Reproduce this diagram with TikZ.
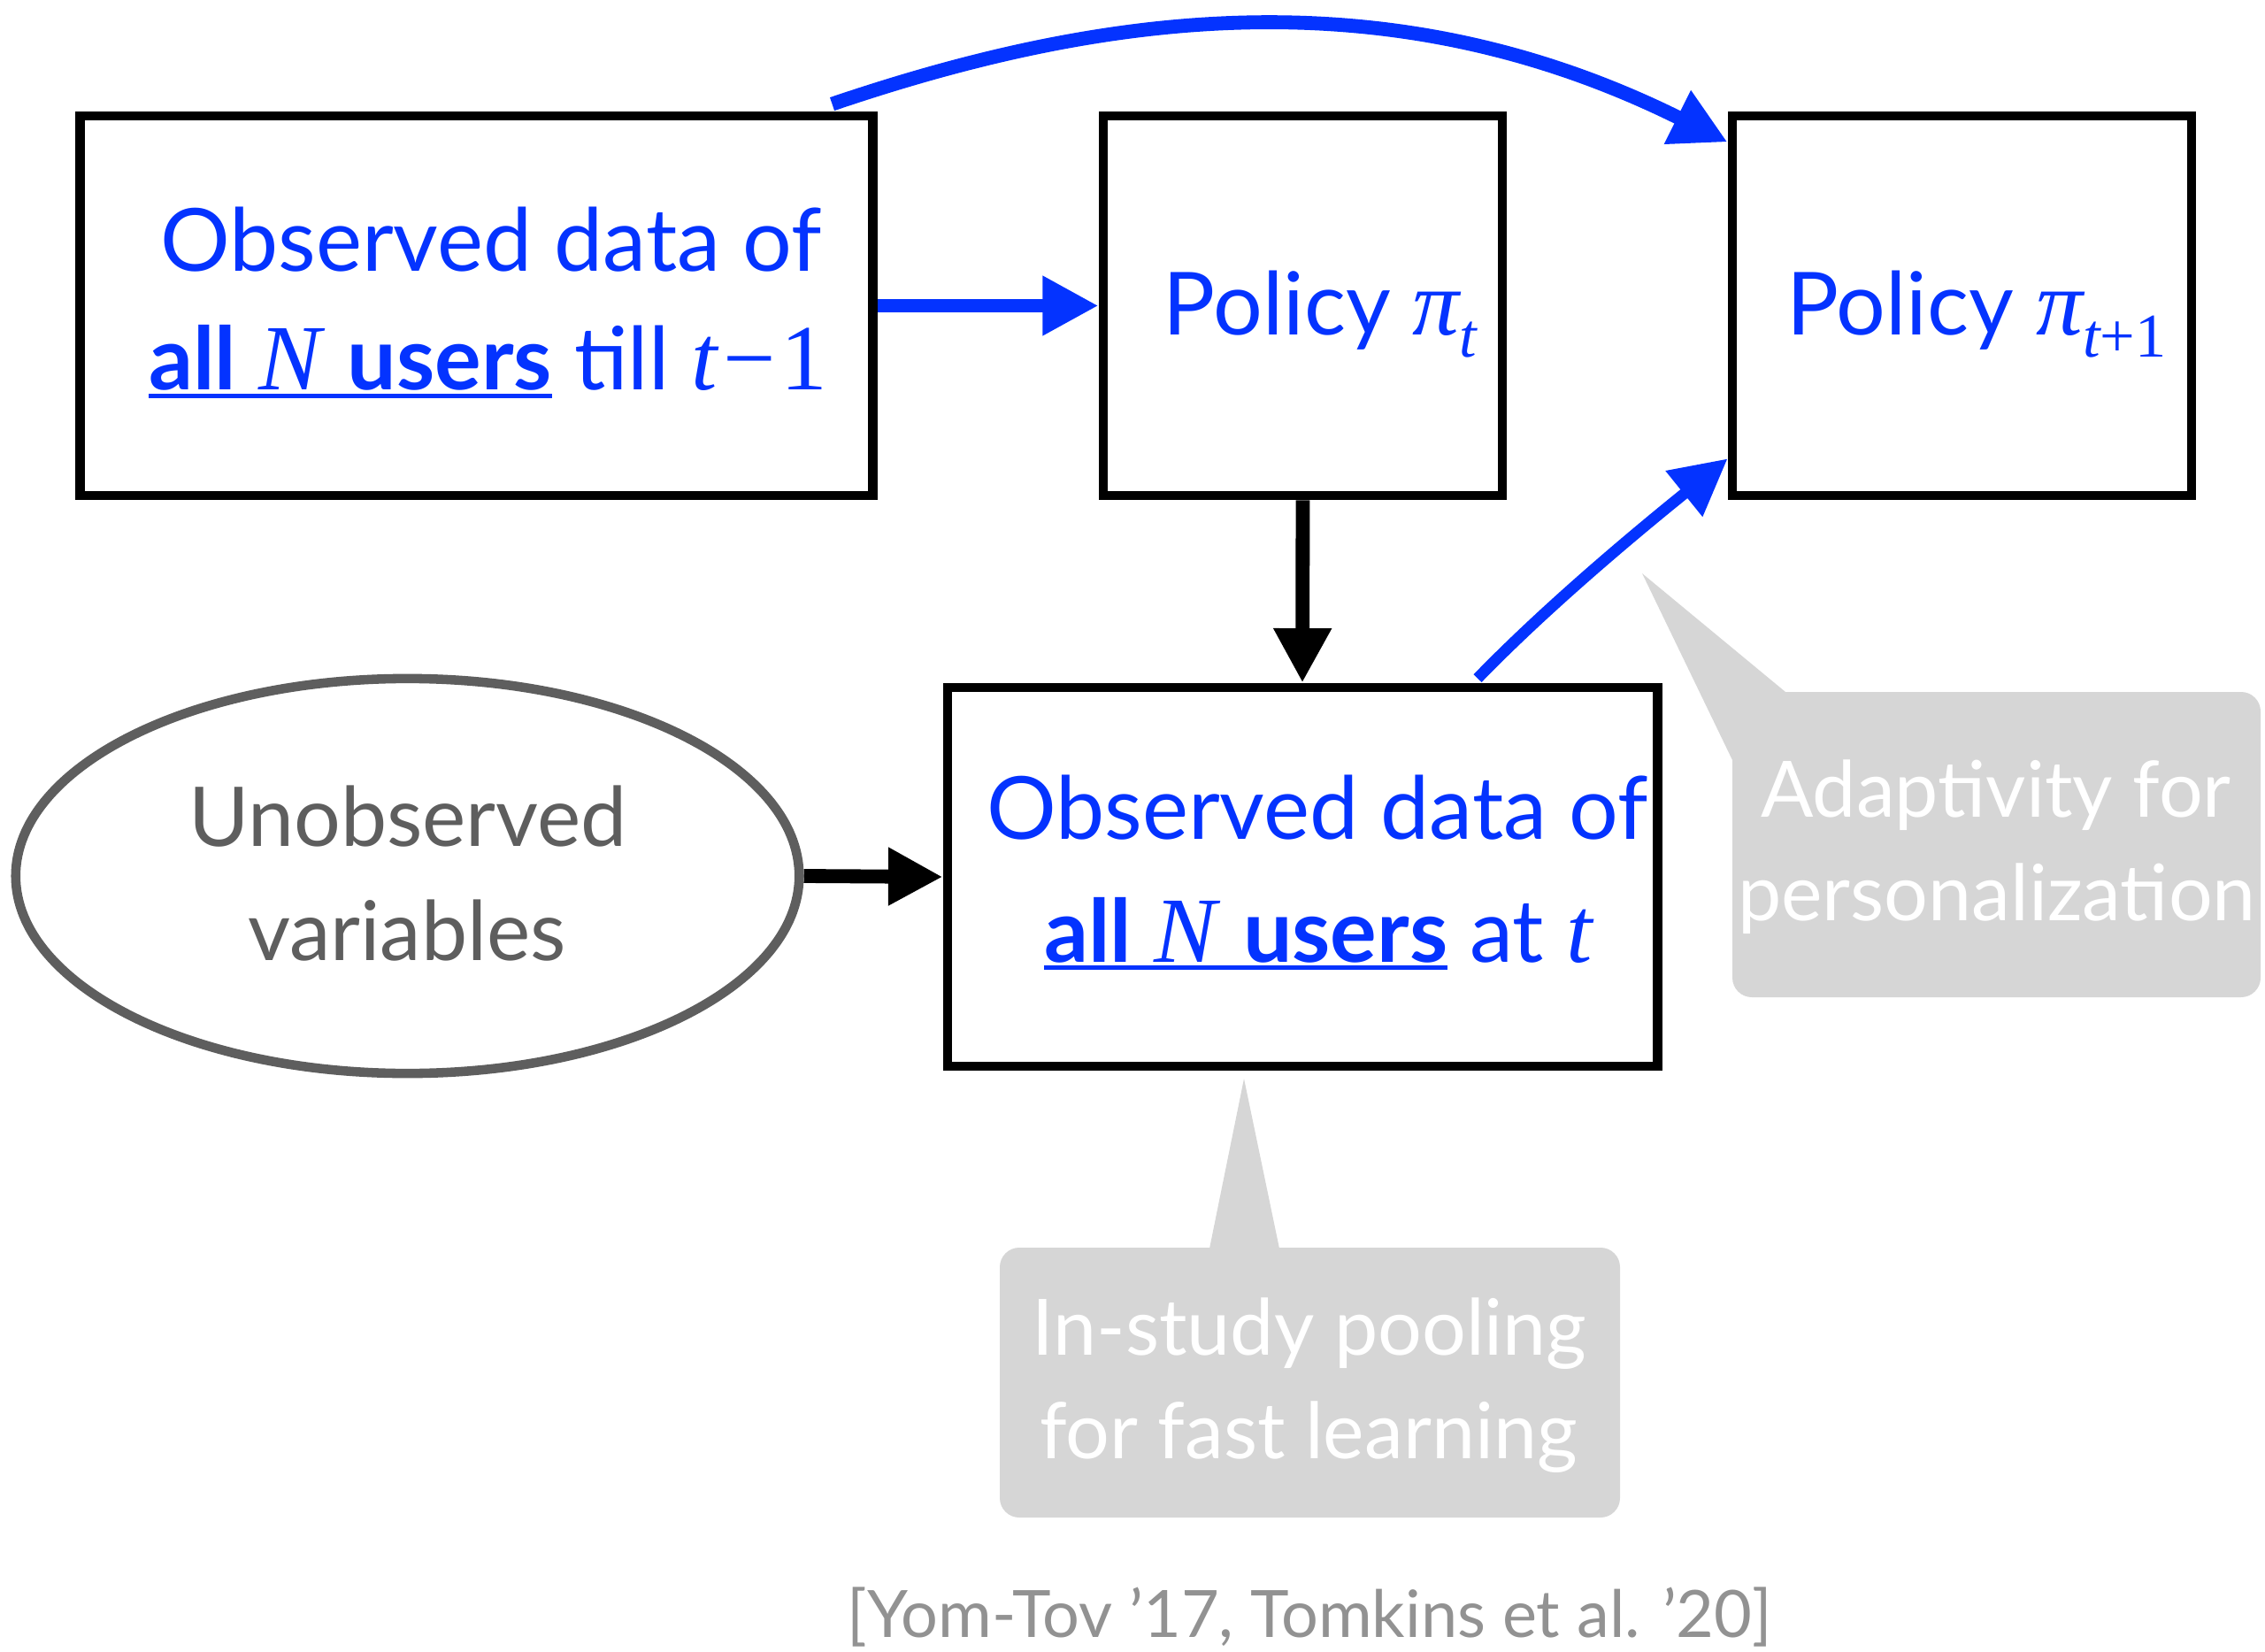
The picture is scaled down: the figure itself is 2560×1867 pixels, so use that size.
\documentclass[tikz,border=0pt]{standalone}
\usepackage{fontspec}
\setmainfont{Lato}
\newfontfamily\tms{Liberation Serif}
\usetikzlibrary{arrows.meta,shapes.geometric,calc}
\definecolor{kblue}{RGB}{4,51,255}
\definecolor{kgray}{RGB}{94,94,94}
\definecolor{callfill}{RGB}{214,214,214}
\definecolor{citegray}{RGB}{146,146,146}
\newcommand\mi[1]{{\tms\itshape\fontsize{30}{30}\selectfont #1}}
\newcommand\mup[1]{{\tms\fontsize{30}{30}\selectfont #1}}
\newcommand\myul[1]{\setbox0\hbox{#1}\rlap{\rule[-2.6pt]{\wd0}{1.4pt}}\box0\relax}
\newcommand\subx[1]{\raisebox{-7pt}{\tms\fontsize{20}{20}\selectfont #1}}
\begin{document}
\begin{tikzpicture}[x=0.01cm,y=-0.01cm,
  box/.style={draw=black,line width=3pt,rectangle,inner sep=0pt,fill=white},
  oval/.style={draw=kgray,line width=3pt,ellipse,inner sep=0pt,fill=white},
  maintxt/.style={text=kblue,font=\fontsize{28}{34}\selectfont,anchor=base,inner sep=0pt},
  graytxt/.style={text=kgray,font=\fontsize{26.5}{32}\selectfont,anchor=base,inner sep=0pt},
  calltxt/.style={text=white,font=\fontsize{25}{30}\selectfont,anchor=base,inner sep=0pt},
  citetxt/.style={text=citegray,font=\fontsize{21}{26}\selectfont,anchor=base,inner sep=0pt},
  barrow/.style={draw=kblue,line width=4.5pt,-{Triangle[length=18pt,width=18pt]}},
  barrowthin/.style={draw=kblue,line width=3.6pt,-{Triangle[length=18pt,width=18pt]}},
  karrow/.style={draw=black,line width=4.5pt,-{Triangle[length=17.5pt,width=17.5pt]}},
  callout/.style={fill=callfill,draw=none}
]
\useasboundingbox (0,0) rectangle (2560,1867);

% callout backgrounds
\fill[callout, rounded corners=0.22cm] (1958,782) rectangle (2555,1127);
\fill[callout] (1856,648) -- (2018,782) -- (2018,800) -- (1958,859) -- cycle;
\fill[callout, rounded corners=0.22cm] (1130,1410) rectangle (1831,1715);
\fill[callout] (1406,1219) -- (1446,1411) -- (1446,1420) -- (1367,1420) -- (1367,1411) -- cycle;

% boxes
\node[box, minimum width=8.95cm, minimum height=4.29cm] (A) at (538.5,345.5) {};
\node[box, minimum width=4.51cm, minimum height=4.29cm] (B) at (1472.5,345.5) {};
\node[box, minimum width=5.19cm, minimum height=4.29cm] (C) at (2217.5,345.5) {};
\node[box, minimum width=8.02cm, minimum height=4.28cm] (D) at (1472,991) {};
\node[oval, minimum width=8.85cm, minimum height=4.46cm] (E) at (460.5,990) {};

% texts
\node[maintxt] (a1) at (555,307) {Observed data of};
\node[maintxt] (a2) at (552,441) {\myul{\textbf{all} \mi{N} \textbf{users}} till \mi{t}\mup{\hspace{0.06em}−\hspace{0.06em}1}};
\node[maintxt] (b1) at (1492,379) {Policy \mi{π}\subx{\itshape t}};
\node[maintxt] (c1) at (2234,379) {Policy \mi{π}\subx{\itshape t\upshape +1}};
\node[maintxt] (d1) at (1489,948) {Observed data of};
\node[maintxt] (d2) at (1490,1087) {\myul{\textbf{all} \mi{N} \textbf{users}} at \mi{t}};
\node[graytxt] (e1) at (461,956) {Unobserved};
\node[graytxt] (e2) at (460,1085) {variables};
\node[calltxt] (p1) at (2256,923) {Adaptivity for};
\node[calltxt] (p2) at (2257,1040) {personalization};
\node[calltxt] (q1) at (1480,1531) {In-study pooling};
\node[calltxt] (q2) at (1479,1648) {for fast learning};
\node[citetxt] (cite) at (1480,1850) {[Yom-Tov ’17, Tomkins et al. ’20]};

% connectors
\coordinate (s1) at ($(A.north east)+(-51,-8)$);
\coordinate (t1) at ($(C.north west)+(0,35)$);
\coordinate (s2) at ($(D.north)+(198,-5)$);
\coordinate (t2) at ($(C.south west)+(0,-47)$);

\draw[barrow] (A.east) -- (B.west);
\draw[barrow] (s1) .. controls (1240,16) and (1565,-32) .. (t1);
\draw[barrowthin] (s2) .. controls (1753,681) and (1860,593) .. (t2);
\draw[karrow] (B.south) -- (D.north);
\draw[karrow] (E.east) -- (D.west);
\end{tikzpicture}
\end{document}
